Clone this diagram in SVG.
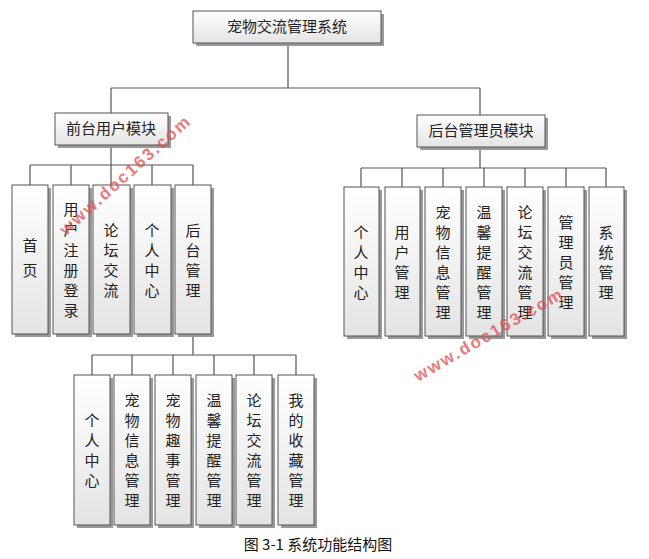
<svg xmlns="http://www.w3.org/2000/svg" width="649" height="559" viewBox="0 0 649 559">
<defs>
<linearGradient id="g" x1="0" y1="0" x2="0" y2="1"><stop offset="0" stop-color="#ffffff"/><stop offset="1" stop-color="#e4e4e4"/></linearGradient>
<style>
.b{fill:url(#g);stroke:#555;stroke-width:1}
.s{fill:#999}
.t{font-family:"Noto Sans CJK SC","Noto Sans CJK JP",sans-serif;font-size:15px;fill:#222;text-anchor:middle}
.c{fill:none;stroke:#555;stroke-width:1.2}
.w{font-family:"Liberation Sans",sans-serif;font-size:17px;font-weight:bold;fill:#e05050;opacity:0.75;letter-spacing:2px}
</style>
</defs>
<rect width="649" height="559" fill="#fff"/>
<g id="connectors" class="c">
<path d="M288 43V88M111 88H480M111 88V113M480 88V115"/>
<path d="M111 145V165M30 165H193M30 165V185M71 165V185M111 165V185M152 165V185M193 165V185"/>
<path d="M480 147V168M361 168H606M361 168V187M402 168V187M443 168V187M484 168V187M525 168V187M566 168V187M606 168V187"/>
<path d="M193 334V355M92 355H296M92 355V375M132 355V375M173 355V375M214 355V375M254 355V375M296 355V375"/>
</g>
<g id="root"><rect class="s" x="196" y="14" width="188" height="32"/><rect class="b" x="193" y="11" width="188" height="32"/><text class="t" x="287" y="32">宠物交流管理系统</text></g>
<g id="front"><rect class="s" x="58" y="116" width="113" height="32"/><rect class="b" x="55" y="113" width="113" height="32"/><text class="t" x="111" y="134">前台用户模块</text></g>
<g id="back"><rect class="s" x="420" y="118" width="128" height="32"/><rect class="b" x="417" y="115" width="128" height="32"/><text class="t" x="481" y="136">后台管理员模块</text></g>
<g id="fc">
<g id="f1"><rect class="s" x="15" y="188" width="36" height="149"/><rect class="b" x="12" y="185" width="36" height="149"/><text class="t" x="30"><tspan x="30" y="251">首</tspan><tspan x="30" y="276">页</tspan></text></g>
<g id="f2"><rect class="s" x="56" y="188" width="36" height="149"/><rect class="b" x="53" y="185" width="36" height="149"/><text class="t"><tspan x="71" y="215">用</tspan><tspan x="71" y="235">户</tspan><tspan x="71" y="256">注</tspan><tspan x="71" y="276">册</tspan><tspan x="71" y="296">登</tspan><tspan x="71" y="316">录</tspan></text></g>
<g id="f3"><rect class="s" x="96" y="188" width="37" height="149"/><rect class="b" x="93" y="185" width="37" height="149"/><text class="t"><tspan x="111" y="236">论</tspan><tspan x="111" y="256">坛</tspan><tspan x="111" y="276">交</tspan><tspan x="111" y="296">流</tspan></text></g>
<g id="f4"><rect class="s" x="137" y="188" width="37" height="149"/><rect class="b" x="134" y="185" width="37" height="149"/><text class="t"><tspan x="152" y="236">个</tspan><tspan x="152" y="256">人</tspan><tspan x="152" y="276">中</tspan><tspan x="152" y="296">心</tspan></text></g>
<g id="f5"><rect class="s" x="178" y="188" width="36" height="149"/><rect class="b" x="175" y="185" width="36" height="149"/><text class="t"><tspan x="193" y="236">后</tspan><tspan x="193" y="256">台</tspan><tspan x="193" y="276">管</tspan><tspan x="193" y="296">理</tspan></text></g>
</g>
<g id="bc">
<g id="b1"><rect class="s" x="347" y="190" width="35" height="149"/><rect class="b" x="344" y="187" width="35" height="149"/><text class="t"><tspan x="361" y="238">个</tspan><tspan x="361" y="258">人</tspan><tspan x="361" y="278">中</tspan><tspan x="361" y="298">心</tspan></text></g>
<g id="b2"><rect class="s" x="388" y="190" width="35" height="149"/><rect class="b" x="385" y="187" width="35" height="149"/><text class="t"><tspan x="402" y="238">用</tspan><tspan x="402" y="258">户</tspan><tspan x="402" y="278">管</tspan><tspan x="402" y="298">理</tspan></text></g>
<g id="b3"><rect class="s" x="428" y="190" width="36" height="149"/><rect class="b" x="425" y="187" width="36" height="149"/><text class="t"><tspan x="443" y="218">宠</tspan><tspan x="443" y="238">物</tspan><tspan x="443" y="258">信</tspan><tspan x="443" y="278">息</tspan><tspan x="443" y="298">管</tspan><tspan x="443" y="318">理</tspan></text></g>
<g id="b4"><rect class="s" x="469" y="190" width="36" height="149"/><rect class="b" x="466" y="187" width="36" height="149"/><text class="t"><tspan x="484" y="218">温</tspan><tspan x="484" y="238">馨</tspan><tspan x="484" y="258">提</tspan><tspan x="484" y="278">醒</tspan><tspan x="484" y="298">管</tspan><tspan x="484" y="318">理</tspan></text></g>
<g id="b5"><rect class="s" x="510" y="190" width="36" height="149"/><rect class="b" x="507" y="187" width="36" height="149"/><text class="t"><tspan x="525" y="218">论</tspan><tspan x="525" y="238">坛</tspan><tspan x="525" y="258">交</tspan><tspan x="525" y="278">流</tspan><tspan x="525" y="298">管</tspan><tspan x="525" y="318">理</tspan></text></g>
<g id="b6"><rect class="s" x="551" y="190" width="36" height="149"/><rect class="b" x="548" y="187" width="36" height="149"/><text class="t"><tspan x="566" y="228">管</tspan><tspan x="566" y="248">理</tspan><tspan x="566" y="268">员</tspan><tspan x="566" y="288">管</tspan><tspan x="566" y="308">理</tspan></text></g>
<g id="b7"><rect class="s" x="592" y="190" width="35" height="149"/><rect class="b" x="589" y="187" width="35" height="149"/><text class="t"><tspan x="606" y="238">系</tspan><tspan x="606" y="258">统</tspan><tspan x="606" y="278">管</tspan><tspan x="606" y="298">理</tspan></text></g>
</g>
<g id="sc">
<g id="s1"><rect class="s" x="77" y="378" width="36" height="150"/><rect class="b" x="74" y="375" width="36" height="150"/><text class="t"><tspan x="92" y="426">个</tspan><tspan x="92" y="446">人</tspan><tspan x="92" y="466">中</tspan><tspan x="92" y="486">心</tspan></text></g>
<g id="s2"><rect class="s" x="117" y="378" width="36" height="150"/><rect class="b" x="114" y="375" width="36" height="150"/><text class="t"><tspan x="132" y="406">宠</tspan><tspan x="132" y="426">物</tspan><tspan x="132" y="446">信</tspan><tspan x="132" y="466">息</tspan><tspan x="132" y="486">管</tspan><tspan x="132" y="506">理</tspan></text></g>
<g id="s3"><rect class="s" x="158" y="378" width="36" height="150"/><rect class="b" x="155" y="375" width="36" height="150"/><text class="t"><tspan x="173" y="406">宠</tspan><tspan x="173" y="426">物</tspan><tspan x="173" y="446">趣</tspan><tspan x="173" y="466">事</tspan><tspan x="173" y="486">管</tspan><tspan x="173" y="506">理</tspan></text></g>
<g id="s4"><rect class="s" x="199" y="378" width="36" height="150"/><rect class="b" x="196" y="375" width="36" height="150"/><text class="t"><tspan x="214" y="406">温</tspan><tspan x="214" y="426">馨</tspan><tspan x="214" y="446">提</tspan><tspan x="214" y="466">醒</tspan><tspan x="214" y="486">管</tspan><tspan x="214" y="506">理</tspan></text></g>
<g id="s5"><rect class="s" x="239" y="378" width="36" height="150"/><rect class="b" x="236" y="375" width="36" height="150"/><text class="t"><tspan x="254" y="406">论</tspan><tspan x="254" y="426">坛</tspan><tspan x="254" y="446">交</tspan><tspan x="254" y="466">流</tspan><tspan x="254" y="486">管</tspan><tspan x="254" y="506">理</tspan></text></g>
<g id="s6"><rect class="s" x="281" y="378" width="36" height="150"/><rect class="b" x="278" y="375" width="36" height="150"/><text class="t"><tspan x="296" y="406">我</tspan><tspan x="296" y="426">的</tspan><tspan x="296" y="446">收</tspan><tspan x="296" y="466">藏</tspan><tspan x="296" y="486">管</tspan><tspan x="296" y="506">理</tspan></text></g>
</g>
<text class="w" transform="translate(66,236) rotate(-42)">www.doc163.com</text>
<text class="w" transform="translate(418,382) rotate(-30)">www.doc163.com</text>
<text x="318" y="550" style="font-family:'Noto Sans CJK SC',sans-serif;font-size:15px;fill:#111;text-anchor:middle">图 3-1 系统功能结构图</text>
</svg>
